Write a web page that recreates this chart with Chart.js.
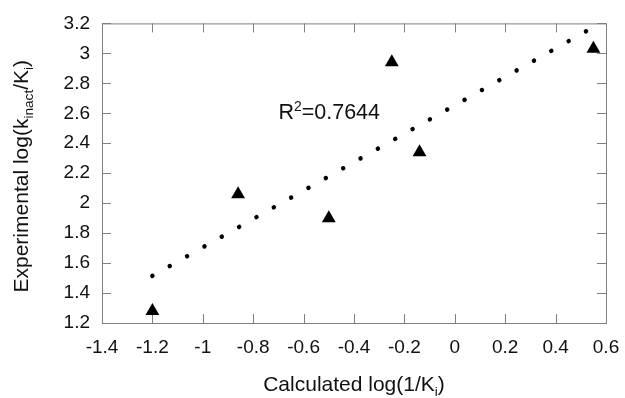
<!DOCTYPE html>
<html>
<head>
<meta charset="utf-8">
<script src="https://cdn.jsdelivr.net/npm/chart.js@4.4.1/dist/chart.umd.min.js"></script>
<style>
  html, body { margin: 0; padding: 0; background: #fff; }
  #wrap { width: 625px; height: 398px; }
</style>
</head>
<body>
<div id="wrap"><canvas id="chart"></canvas></div>
<script>
// measured points
const calcX = [-1.2, -0.86, -0.5, -0.25, -0.14, 0.55]
const expY = [1.28, 2.06, 1.9, 2.94, 2.34, 3.03]

// dotted fit line
const fitX = [-1.2, 0.55]
const fitY = [1.515, 3.175]

const xTicks = [-1.4, -1.2, -1, -0.8, -0.6, -0.4, -0.2, 0, 0.2, 0.4, 0.6]
const yTicks = [1.2, 1.4, 1.6, 1.8, 2, 2.2, 2.4, 2.6, 2.8, 3, 3.2]

const r2Text = '0.7644'
const r2Pos = { x: -0.7, y: 2.56 }

const FONT = "'Liberation Sans', Arial, sans-serif"
const AXIS_GREY = '#808080'

// draw a run of text pieces, some lowered (sub) or raised (sup)
const drawRich = (ctx, parts, size, x, y, align) => {
  const pieces = parts.map((p) => {
    const s = p.sub || p.sup ? size * 0.65 : size
    ctx.font = `${s}px ${FONT}`
    return { ...p, s, w: ctx.measureText(p.t).width }
  })
  const total = pieces.reduce((a, p) => a + p.w, 0)
  let cx = align === 'center' ? x - total / 2 : x
  ctx.textAlign = 'left'
  ctx.textBaseline = 'alphabetic'
  pieces.forEach((p) => {
    ctx.font = `${p.s}px ${FONT}`
    let dy = 0
    if (p.sub) dy = size * 0.22
    if (p.sup) dy = -size * 0.38
    ctx.fillText(p.t, cx, y + dy)
    cx += p.w
  })
}

const framePlugin = {
  id: 'frame',
  beforeDatasetsDraw(chart) {
    const { ctx, chartArea: a, scales } = chart
    ctx.save()
    ctx.strokeStyle = AXIS_GREY
    ctx.lineWidth = 1
    ctx.strokeRect(a.left + 0.5, a.top + 0.5, a.right - a.left, a.bottom - a.top)
    const len = 9
    ctx.beginPath()
    xTicks.forEach((v) => {
      const px = Math.round(scales.x.getPixelForValue(v)) + 0.5
      ctx.moveTo(px, a.bottom)
      ctx.lineTo(px, a.bottom - len)
      ctx.moveTo(px, a.top)
      ctx.lineTo(px, a.top + len)
    })
    yTicks.forEach((v) => {
      const py = Math.round(scales.y.getPixelForValue(v)) + 0.5
      ctx.moveTo(a.left, py)
      ctx.lineTo(a.left + len, py)
      ctx.moveTo(a.right, py)
      ctx.lineTo(a.right - len, py)
    })
    ctx.stroke()
    ctx.restore()
  },
  afterDraw(chart) {
    const { ctx, chartArea: a, scales } = chart
    ctx.save()
    ctx.fillStyle = '#111'
    // x title
    drawRich(ctx, [{ t: 'Calculated log(1/K' }, { t: 'i', sub: true }, { t: ')' }],
      21, (a.left + a.right) / 2, 391, 'center')
    // y title, rotated
    ctx.save()
    ctx.translate(28, (a.top + a.bottom) / 2 + 3)
    ctx.rotate(-Math.PI / 2)
    drawRich(ctx, [
      { t: 'Experimental log(k' }, { t: 'inact', sub: true },
      { t: '/K' }, { t: 'i', sub: true }, { t: ')' },
    ], 21, 0, 0, 'center')
    ctx.restore()
    // R squared note
    drawRich(ctx, [{ t: 'R' }, { t: '2', sup: true }, { t: '=' + r2Text }],
      21.5, scales.x.getPixelForValue(r2Pos.x), scales.y.getPixelForValue(r2Pos.y), 'left')
    ctx.restore()
  },
}

const fmt = (v) => String(+Number(v).toFixed(1))

new Chart(document.getElementById('chart'), {
  type: 'scatter',
  data: {
    datasets: [
      {
        data: fitX.map((x, i) => ({ x, y: fitY[i] })),
        type: 'line',
        showLine: true,
        borderColor: '#000',
        borderWidth: 4.5,
        borderDash: [0.01, 19.9],
        borderCapStyle: 'round',
        pointRadius: 0,
        fill: false,
      },
      {
        data: calcX.map((x, i) => ({ x, y: expY[i] })),
        pointStyle: 'triangle',
        pointRadius: 8,
        pointBackgroundColor: '#000',
        pointBorderColor: '#000',
        pointBorderWidth: 0,
      },
    ],
  },
  options: {
    responsive: true,
    maintainAspectRatio: false,
    animation: false,
    layout: { padding: { top: 21, right: 19, left: 0, bottom: 0 } },
    plugins: {
      legend: { display: false },
      tooltip: { enabled: false },
    },
    scales: {
      x: {
        type: 'linear',
        min: -1.4,
        max: 0.6,
        afterBuildTicks: (s) => { s.ticks = xTicks.map((value) => ({ value })) },
        afterFit: (s) => {
          s.height = 75
          s.paddingLeft = 0
          s.paddingRight = 0
        },
        grid: { display: false, drawTicks: false },
        border: { display: false },
        ticks: {
          callback: fmt,
          padding: 13,
          color: '#111',
          font: { family: FONT, size: 19 },
          maxRotation: 0,
          autoSkip: false,
        },
      },
      y: {
        type: 'linear',
        min: 1.2,
        max: 3.2,
        afterBuildTicks: (s) => { s.ticks = yTicks.map((value) => ({ value })) },
        afterFit: (s) => { s.width = 102 },
        grid: { display: false, drawTicks: false },
        border: { display: false },
        ticks: {
          callback: fmt,
          padding: 12,
          color: '#111',
          font: { family: FONT, size: 19 },
          autoSkip: false,
        },
      },
    },
  },
  plugins: [framePlugin],
})
</script>
</body>
</html>
